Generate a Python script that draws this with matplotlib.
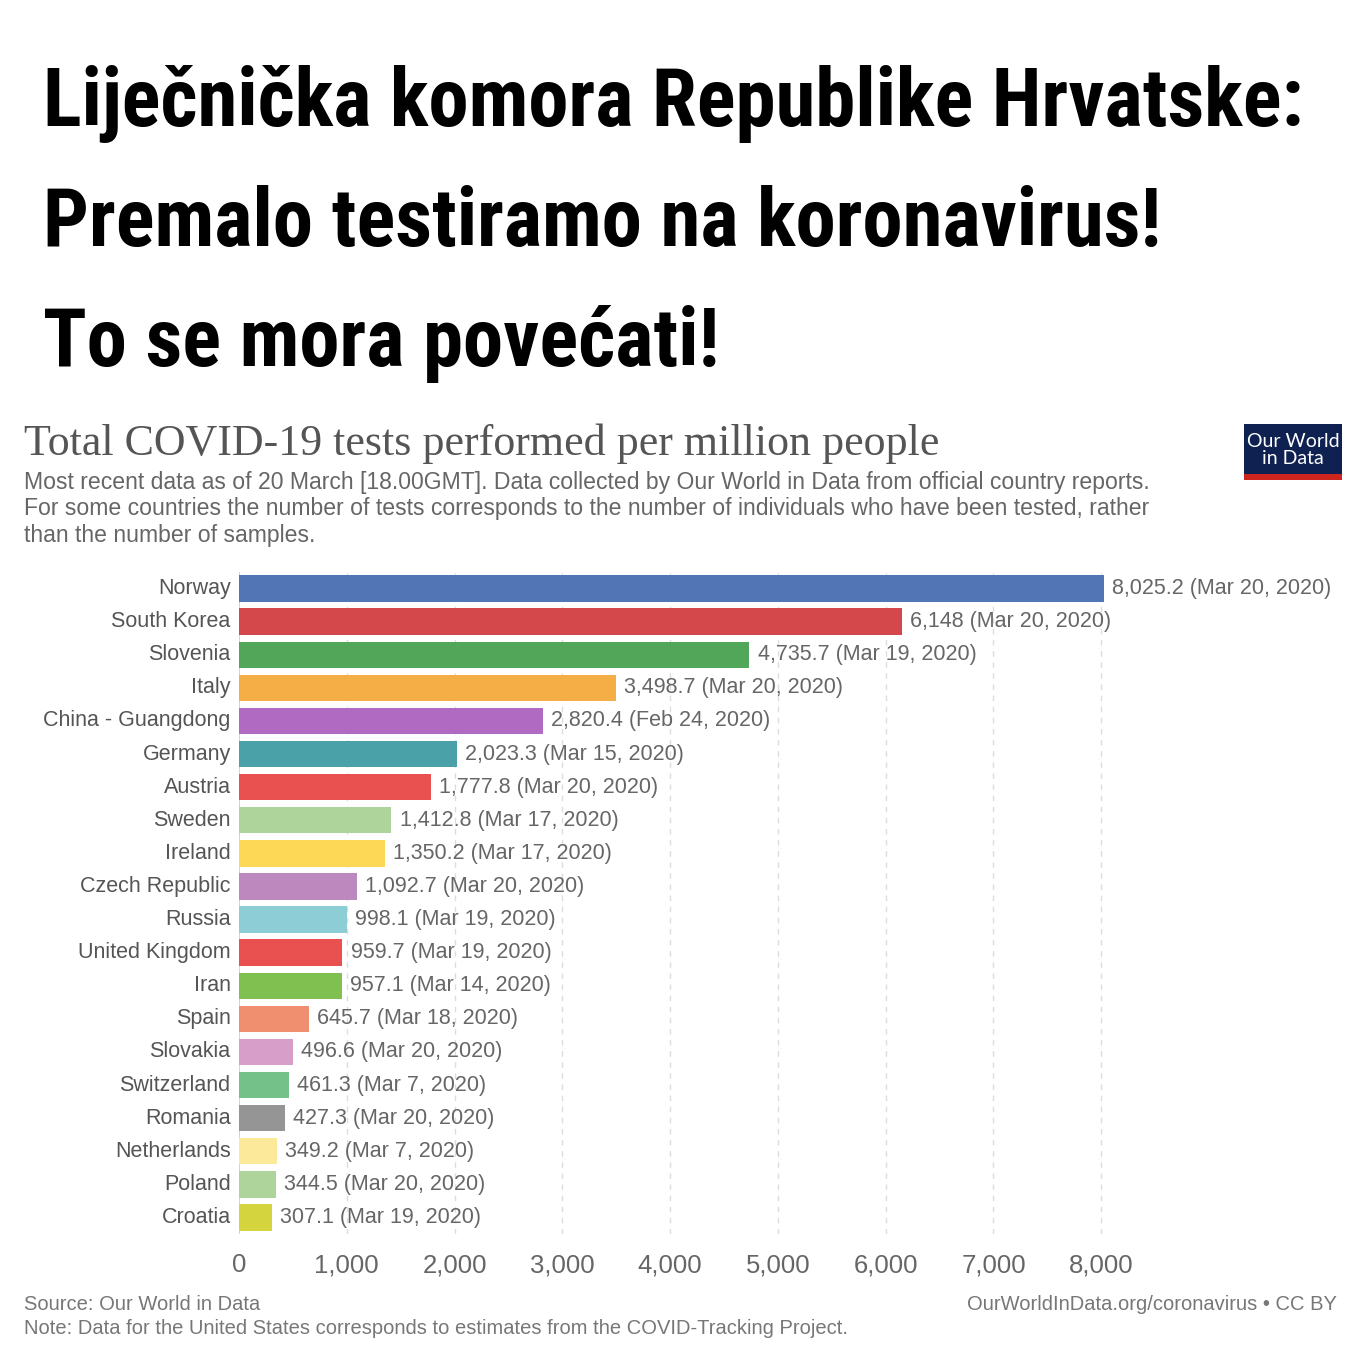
#  Total COVID-19 tests per million people - OWID bar chart with a headline on top

import matplotlib
matplotlib.use("Agg")
import matplotlib.pyplot as plt
from matplotlib.patches import Rectangle

# Data
countries = ["Norway", "South Korea", "Slovenia", "Italy", "China - Guangdong", "Germany",
             "Austria", "Sweden", "Ireland", "Czech Republic", "Russia", "United Kingdom",
             "Iran", "Spain", "Slovakia", "Switzerland", "Romania", "Netherlands", "Poland",
             "Croatia"]
tests_per_million = [8025.2, 6148, 4735.7, 3498.7, 2820.4, 2023.3, 1777.8, 1412.8, 1350.2,
                     1092.7, 998.1, 959.7, 957.1, 645.7, 496.6, 461.3, 427.3, 349.2, 344.5,
                     307.1]
value_labels = ["8,025.2", "6,148", "4,735.7", "3,498.7", "2,820.4", "2,023.3", "1,777.8",
                "1,412.8", "1,350.2", "1,092.7", "998.1", "959.7", "957.1", "645.7", "496.6",
                "461.3", "427.3", "349.2", "344.5", "307.1"]
dates = ["Mar 20, 2020", "Mar 20, 2020", "Mar 19, 2020", "Mar 20, 2020", "Feb 24, 2020",
         "Mar 15, 2020", "Mar 20, 2020", "Mar 17, 2020", "Mar 17, 2020", "Mar 20, 2020",
         "Mar 19, 2020", "Mar 19, 2020", "Mar 14, 2020", "Mar 18, 2020", "Mar 20, 2020",
         "Mar 7, 2020", "Mar 20, 2020", "Mar 7, 2020", "Mar 20, 2020", "Mar 19, 2020"]
bar_colors = ["#5276b5", "#d4474b", "#52a65a", "#f5ae45", "#b06ac2", "#4aa2a8", "#e8514f",
              "#afd49b", "#fdd857", "#bc88be", "#8dcdd5", "#e8514f", "#80c050", "#f08f6f",
              "#d69ec8", "#74c18a", "#959595", "#fde99a", "#afd49b", "#d4d43e"]
x_ticks = [0, 1000, 2000, 3000, 4000, 5000, 6000, 7000, 8000]
x_tick_labels = ["0", "1,000", "2,000", "3,000", "4,000", "5,000", "6,000", "7,000", "8,000"]

headline = ["Liječnička komora Republike Hrvatske:",
            "Premalo testiramo na koronavirus!",
            "To se mora povećati!"]

W = 1366
H = 1366
sans = ["Liberation Sans", "DejaVu Sans"]

fig = plt.figure(figsize=(W / 100, H / 100), dpi=100)
fig.patch.set_facecolor("white")

# Headline, scaled so the first line has the width of the original
head_font = ["Liberation Sans Narrow", "Roboto Condensed", "Liberation Sans", "DejaVu Sans"]
baselines = [126, 246, 366]
head_texts = []
for line, yb in zip(headline, baselines):
    t = fig.text(43 / W, 1 - yb / H, line, fontsize=60, fontweight="bold",
                 family=head_font, color="black", va="baseline", ha="left")
    head_texts.append(t)
fig.canvas.draw()
r = fig.canvas.get_renderer()
w0 = head_texts[0].get_window_extent(r).width
new_size = 60 * (1262 / w0)
for t in head_texts:
    t.set_fontsize(new_size)

# Chart title and subtitle
fig.text(24 / W, 1 - 444 / H, "Total COVID-19 tests performed per million people",
         fontsize=31.7, family=["Liberation Serif", "DejaVu Serif"], color="#555555",
         va="center", ha="left")
fig.text(24 / W, 1 - 471 / H,
         "Most recent data as of 20 March [18.00GMT]. Data collected by Our World in Data from official country reports.\n"
         "For some countries the number of tests corresponds to the number of individuals who have been tested, rather\n"
         "than the number of samples.",
         fontsize=16.6, family=sans, color="#666666", va="top", ha="left", linespacing=1.19)

# OWID logo
fig.patches.append(Rectangle((1244 / W, 1 - 480 / H), 98 / W, 56 / H, transform=fig.transFigure,
                             facecolor="#0f2150", edgecolor="none"))
fig.patches.append(Rectangle((1244 / W, 1 - 480 / H), 98 / W, 6 / H, transform=fig.transFigure,
                             facecolor="#ce261e", edgecolor="none"))
fig.text(1293 / W, 1 - 450 / H, "Our World\nin Data", fontsize=14, family=["Lato"] + sans,
         color="white", ha="center", va="center", linespacing=0.95)

# Bar chart
ax = fig.add_axes([239 / W, 1 - 1234 / H, (1104 - 239) / W, (1234 - 572) / H])
ypos = list(range(len(countries)))
ax.barh(ypos, tests_per_million, height=0.8, color=bar_colors, zorder=2)
ax.set_ylim(len(countries) - 0.5, -0.5)
ax.set_xlim(0, 8025.2)

for y, v, lab, d in zip(ypos, tests_per_million, value_labels, dates):
    ax.annotate(f"{lab} ({d})", xy=(v, y), xytext=(6, 0), textcoords="offset points",
                va="center", ha="left", fontsize=15.5, family=sans, color="#666666",
                annotation_clip=False, zorder=3)

ax.set_yticks(ypos)
ax.set_yticklabels(countries, fontsize=15.5, family=sans, color="#555555", va="center")
ax.set_xticks(x_ticks)
ax.set_xticklabels(x_tick_labels, fontsize=18.5, family=sans, color="#666666")
ax.tick_params(axis="both", length=0)
ax.tick_params(axis="y", pad=6)
ax.tick_params(axis="x", pad=14)

for xv in x_ticks[1:]:
    ax.axvline(xv, color="#dddddd", linestyle=(0, (4, 4)), linewidth=1, zorder=1)
ax.axvline(0, color="#cccccc", linewidth=1.2, zorder=1)

for s in ax.spines.values():
    s.set_visible(False)

# Footer
fig.text(24 / W, 1 - 1305 / H, "Source: Our World in Data", fontsize=14.5, family=sans,
         color="#777777", va="center", ha="left")
fig.text(24 / W, 1 - 1329 / H,
         "Note: Data for the United States corresponds to estimates from the COVID-Tracking Project.",
         fontsize=14.5, family=sans, color="#777777", va="center", ha="left")
fig.text(1337 / W, 1 - 1305 / H, "OurWorldInData.org/coronavirus \u2022 CC BY", fontsize=14.5,
         family=sans, color="#777777", va="center", ha="right")

plt.savefig("out.png", dpi=100, facecolor="white")
